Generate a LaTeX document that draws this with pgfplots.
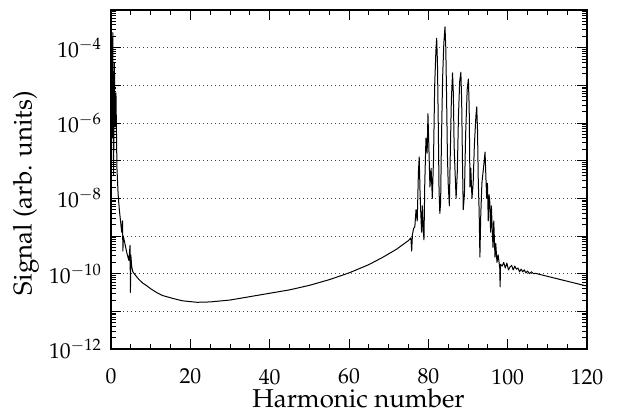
\documentclass[border=0pt]{standalone}
\usepackage[T1]{fontenc}
\usepackage{mathpazo}
\usepackage{pgfplots}
\pgfplotsset{compat=1.18}
\usepackage{pgfplotstable}
% x = harmonic number, l = log10(signal)
\pgfplotstableread{
x l
0.05 -3.3
0.25 -6.4
0.45 -3.6
0.65 -7.4
0.85 -4.4
1.05 -6.1
1.25 -5.2
1.5 -7.2
1.8 -7.9
2.1 -8.3
2.4 -8.6
2.7 -8.9
2.9 -8.6
3.0 -9.4
3.1 -9.0
3.5 -9.2
4.0 -9.45
4.5 -9.65
4.8 -9.25
4.9 -10.5
5.0 -9.5
5.2 -9.8
5.5 -9.95
6 -10.02
7 -10.15
8 -10.25
9 -10.32
10 -10.4
11.5 -10.5
13 -10.58
15.7 -10.66
18 -10.72
21.7 -10.76
25 -10.75
30 -10.7
35 -10.61
40 -10.52
45 -10.43
50 -10.31
55 -10.16
60 -9.98
65 -9.76
68.6 -9.56
72 -9.35
75 -9.12
75.6 -9.05
75.8 -9.4
76.0 -8.95
76.3 -8.8
76.6 -8.75
76.9 -8.3
77.2 -8.6
77.5 -7.3
77.7 -6.9
77.9 -7.8
78.1 -8.4
78.3 -8.9
78.5 -8.2
78.7 -8.85
78.9 -9.1
79.1 -7.6
79.4 -6.4
79.7 -6.8
79.9 -5.75
80.1 -6.5
80.4 -7.7
80.7 -7.2
81.0 -8.0
81.3 -7.0
81.6 -5.0
81.9 -4.1
82.1 -3.75
82.3 -4.4
82.5 -6.0
82.7 -7.8
82.9 -8.4
83.1 -8.1
83.3 -6.5
83.6 -4.8
83.9 -3.9
84.2 -3.45
84.4 -4.0
84.6 -5.3
84.8 -6.8
85.0 -7.6
85.3 -8.2
85.5 -7.0
85.8 -5.4
86.1 -4.67
86.3 -5.2
86.5 -6.6
86.7 -7.2
87.0 -8.0
87.3 -7.3
87.6 -5.8
87.9 -4.9
88.2 -4.65
88.4 -5.4
88.6 -7.0
88.8 -8.3
89.1 -7.9
89.4 -6.3
89.8 -5.1
90.1 -4.83
90.3 -5.6
90.5 -7.7
90.7 -7.2
91.0 -8.0
91.3 -7.6
91.6 -6.6
92.0 -5.8
92.2 -5.57
92.4 -6.2
92.6 -7.6
92.8 -8.3
93.0 -9.56
93.2 -8.5
93.5 -7.6
93.9 -7.2
94.3 -6.77
94.5 -7.4
94.7 -8.0
94.9 -7.6
95.1 -8.6
95.3 -7.9
95.5 -8.1
95.7 -8.9
95.9 -8.2
96.1 -8.8
96.3 -9.3
96.5 -8.6
96.8 -9.56
97.0 -9.2
97.3 -9.7
97.6 -9.5
98.0 -9.85
98.1 -10.35
98.2 -9.75
98.6 -9.8
99.0 -9.7
99.4 -9.85
99.8 -9.72
100.2 -9.9
100.6 -9.82
101.0 -9.78
101.4 -9.9
101.8 -9.8
102.2 -9.88
102.6 -9.85
103.0 -9.95
103.4 -9.88
103.8 -9.95
104.2 -9.9
104.6 -9.98
105.0 -9.93
105.5 -10.0
106.0 -9.95
106.5 -10.0
107 -9.99
110 -10.07
115 -10.2
120 -10.33
}\spectrum
\begin{document}
\begin{tikzpicture}
\useasboundingbox (-66.6pt,-39.6pt) rectangle (307.2pt,209.4pt);
\begin{axis}[
  at={(0,0)}, anchor=south west,
  scale only axis, width=285.6pt, height=203.4pt,
  xmin=0, xmax=120, ymode=log, ymin=1e-12, ymax=1e-3,
  xtick={0,20,...,120}, minor x tick num=3,
  ytickten={-12,-11,...,-3},
  yticklabels={$10^{-12}$,,$10^{-10}$,,$10^{-8}$,,$10^{-6}$,,$10^{-4}$,},
  ymajorgrids, grid style={dotted, black!75, line width=0.5pt},
  tick align=inside, major tick length=6pt, minor tick length=3.2pt,
  axis line style={line width=0.9pt}, tick style={black, line width=0.6pt},
  ticklabel style={font=\fontsize{13}{15}\selectfont},
  xticklabel style={yshift=-8.5pt},
  yticklabel style={xshift=-2pt},
  xlabel={Harmonic number}, ylabel={Signal (arb. units)},
  label style={font=\fontsize{15.5}{18}\selectfont},
  xlabel style={at={(axis description cs:0.52,0)}, anchor=base, yshift=-35pt},
  ylabel style={at={(axis description cs:0,0.46)}, anchor=center, yshift=51pt},
]
\addplot[black, line width=0.6pt, line join=round] table[x=x, y expr=10^(\thisrow{l})] {\spectrum};
\end{axis}
\end{tikzpicture}
\end{document}
